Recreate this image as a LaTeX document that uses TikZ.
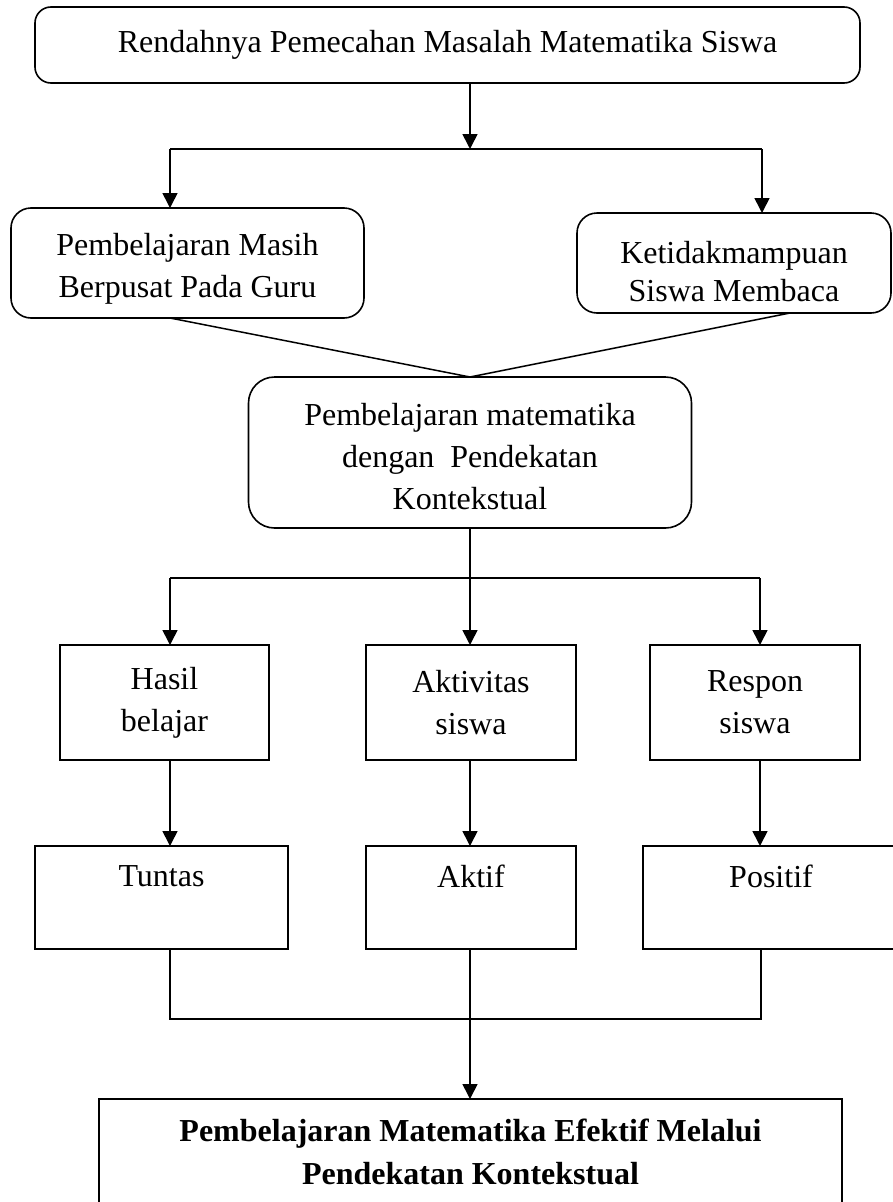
\documentclass[tikz,border=0pt]{standalone}
\usepackage{fontspec}
\setmainfont{Liberation Serif}
\usetikzlibrary{arrows.meta,calc}
\begin{document}
\begin{tikzpicture}[x=1pt,y=-1pt,
  every node/.style={font=\fontsize{32}{42}\selectfont, align=center, inner sep=0pt, outer sep=0pt},
  rndbox/.style={draw, line width=1.6pt, rounded corners=#1},
  rndbox/.default=18pt,
  sqbox/.style={draw, line width=1.6pt},
  conn/.style={line width=1.5pt},
  arr/.style={line width=1.6pt, -{Triangle[length=15pt,width=15pt]}}]
\useasboundingbox (0,0) rectangle (893,1202);

% nodes
\node[rndbox=16pt, minimum width=825pt, minimum height=76pt] (top) at (447.5,45) {Rendahnya Pemecahan Masalah Matematika Siswa};
\node[rndbox=20pt, minimum width=353pt, minimum height=110pt, text height=76pt, text depth=7pt] (pmg) at (187.5,263) {Pembelajaran Masih\\Berpusat Pada Guru};
\node[rndbox=20pt, minimum width=314pt, minimum height=100pt, text height=76pt, text depth=0pt, font=\fontsize{32}{38}\selectfont] (ksm) at (734,263) {Ketidakmampuan\\Siswa Membaca};
\node[rndbox=26pt, minimum width=443pt, minimum height=151pt, text height=114pt, text depth=0pt] (pmk) at (470,452.5) {Pembelajaran matematika\\dengan\ \ Pendekatan\\Kontekstual};
\node[sqbox, minimum width=209pt, minimum height=115pt] (hb) at (164.5,702.5) {Hasil\\belajar};
\node[sqbox, minimum width=210pt, minimum height=115pt] (as) at (471,702.5) {Aktivitas\\siswa};
\node[sqbox, minimum width=210pt, minimum height=115pt] (rs) at (755,702.5) {Respon\\siswa};
\node[sqbox, minimum width=253pt, minimum height=103pt] (tt) at (161.5,897.5) {Tuntas\\~};
\node[sqbox, minimum width=210pt, minimum height=103pt] (ak) at (471,897.5) {Aktif\\~};
\node[sqbox, minimum width=256pt, minimum height=103pt] (ps) at (771,897.5) {Positif\\~};
\node[sqbox, minimum width=743pt, minimum height=106pt, font=\bfseries\fontsize{32}{43}\selectfont] (pme) at (470.5,1152) {Pembelajaran Matematika Efektif Melalui\\Pendekatan Kontekstual};

% junction coordinates
\coordinate (j1) at (470,149);
\coordinate (j1l) at (170,149);
\coordinate (j1r) at (762,149);
\coordinate (j2) at (470,578);
\coordinate (j2l) at (170,578);
\coordinate (j2r) at (760,578);
\coordinate (j3) at (470,1019);
\coordinate (j3l) at (170,1019);
\coordinate (j3r) at (761,1019);

% top split
\draw[arr] (top.south -| j1) -- (j1);
\draw[conn] (j1l) -- (j1r);
\draw[arr] (j1l) -- (j1l |- pmg.north);
\draw[arr] (j1r) -- (j1r |- ksm.north);

% converge into middle
\draw[conn] (pmg.south -| j1l) -- (pmk.north) -- ($(ksm.south)+(56,0)$);

% middle split
\draw[conn] (pmk.south) -- (j2);
\draw[conn] (j2l) -- (j2r);
\draw[arr] (j2l) -- (j2l |- hb.north);
\draw[arr] (j2) -- (j2 |- as.north);
\draw[arr] (j2r) -- (j2r |- rs.north);

% row 1 to row 2
\draw[arr] (hb.south -| j2l) -- (j2l |- tt.north);
\draw[arr] (as.south -| j2) -- (j2 |- ak.north);
\draw[arr] (rs.south -| j2r) -- (j2r |- ps.north);

% merge to bottom
\draw[conn] (tt.south -| j3l) -- (j3l) -- (j3r) -- (ps.south -| j3r);
\draw[conn] (ak.south -| j3) -- (j3);
\draw[arr] (j3) -- (pme.north -| j3);
\end{tikzpicture}
\end{document}
